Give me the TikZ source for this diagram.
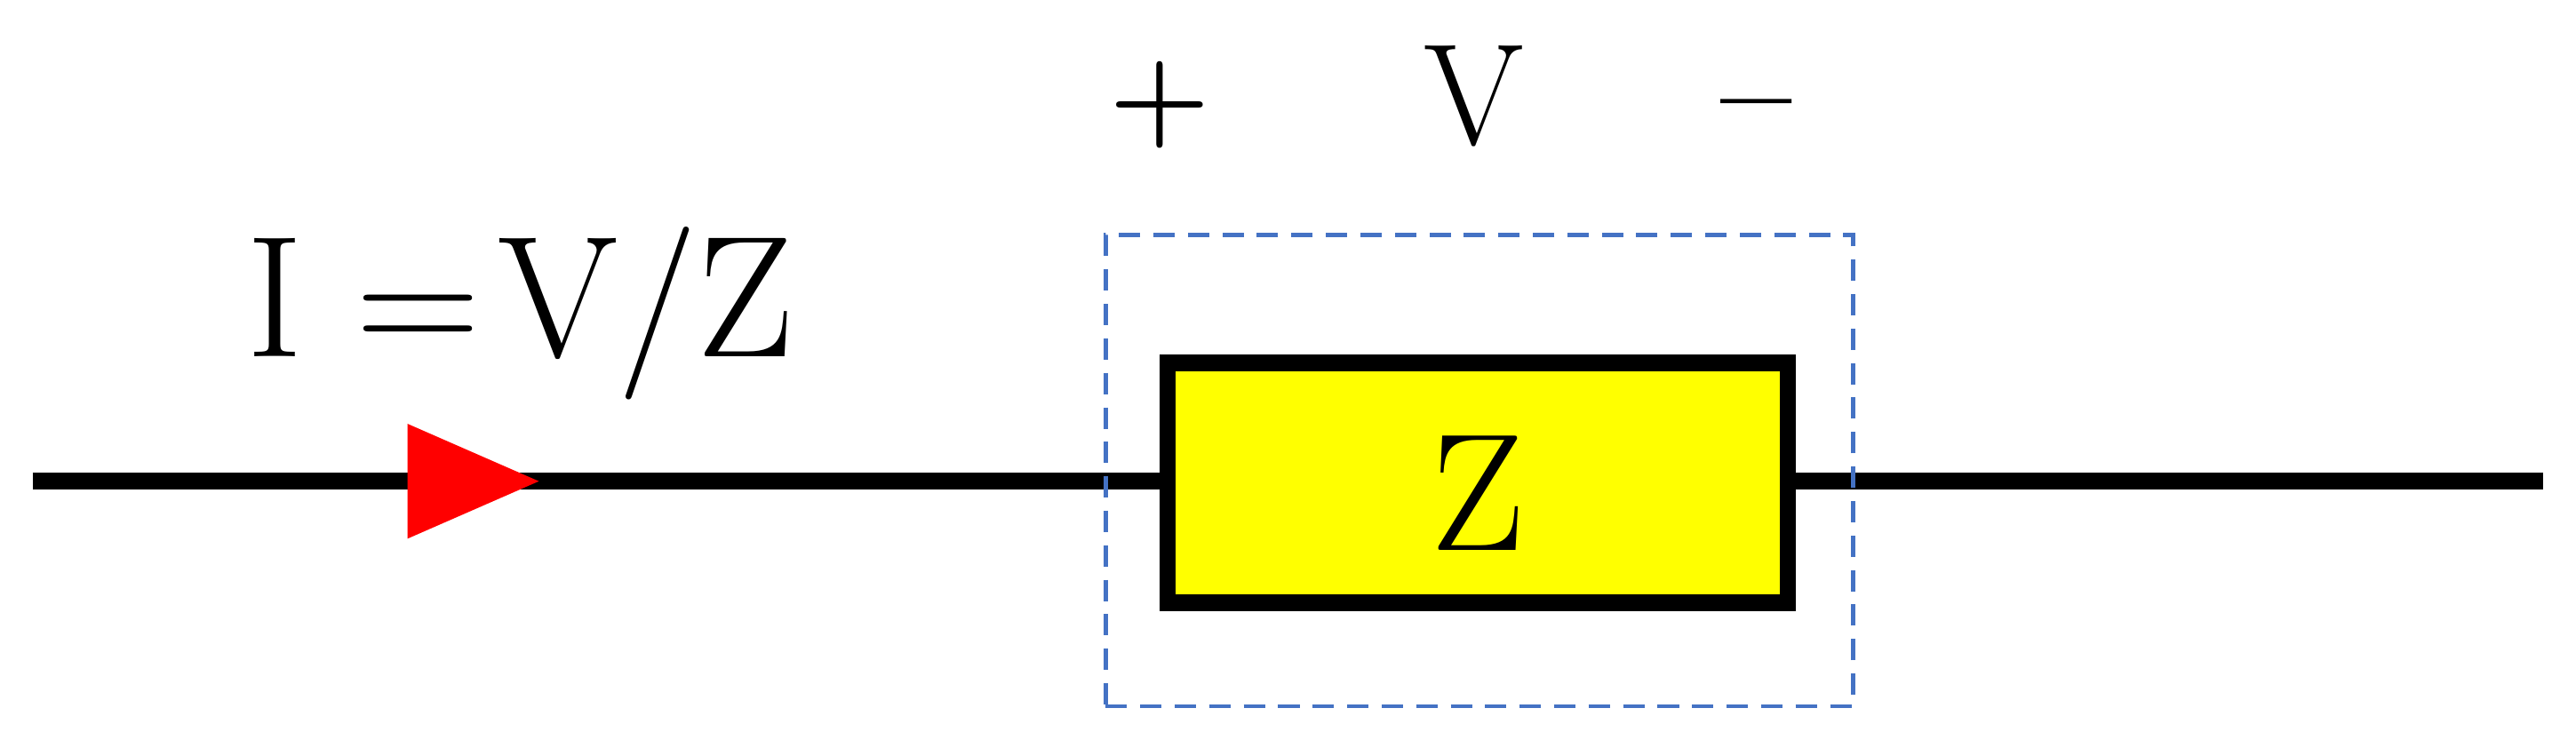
\documentclass[tikz,border=0pt]{standalone}
\begin{document}
\begin{tikzpicture}[x=0.02cm,y=-0.02cm]
\definecolor{dashblue}{RGB}{68,114,196}
\definecolor{yel}{RGB}{255,255,0}
\tikzset{wire/.style={line width=0.2cm},
 lbl/.style={inner sep=0pt,font=\fontsize{50}{54}\selectfont}}
\useasboundingbox (0,0) rectangle (1568,455);
\coordinate (a) at (20,293);
\coordinate (b) at (1548,293);
\draw[wire] (a) -- (b);
\node[draw=black,line width=0.2cm,fill=yel,minimum width=7.55cm,minimum height=2.92cm,inner sep=0pt] (z) at (899.5,294) {};
\node[lbl,font=\fontsize{58}{62}\selectfont,anchor=base] (zt) at (899.5,335) {Z};
\node[draw=dashblue,line width=0.05cm,dash pattern=on 0.26cm off 0.16cm,minimum width=9.1cm,minimum height=5.74cm,inner sep=0pt] (d) at (900.5,286.5) {};
\fill[red] (248,258) -- (328,293) -- (248,328) -- cycle;
\node[lbl,font=\fontsize{60}{64}\selectfont,anchor=base west] (eq) at (150,217) {I\hspace{0.3em}=\hspace{0.1em}V/Z};
\node[lbl,font=\fontsize{40}{44}\selectfont\bfseries] (plus) at (706,64) {+};
\node[lbl,anchor=base] (v) at (897,88) {V};
\node[lbl,font=\fontsize{44}{48}\selectfont\bfseries] (minus) at (1069,72) {--};
\end{tikzpicture}
\end{document}
